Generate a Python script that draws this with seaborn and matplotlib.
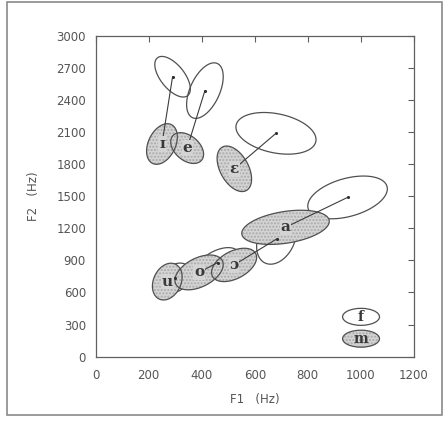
import numpy as np
import pandas as pd
import matplotlib
matplotlib.use("Agg")
import matplotlib.pyplot as plt
import seaborn as sns
from matplotlib.patches import Polygon, Ellipse, Rectangle

# Vowel categories (Italian seven-vowel system)
vowels = ["ɪ", "e", "ɛ", "a", "ɔ", "o", "u"]

# Female speakers: mean F1/F2 (Hz), half-extent of the dispersion ellipse, correlation
f_f1 = [290, 412, 680, 950, 682, 460, 300]
f_f2 = [2620, 2490, 2090, 1490, 1100, 880, 735]
f_ext1 = [67, 69, 151, 150, 75, 80, 60]
f_ext2 = [190, 260, 195, 200, 235, 140, 140]
f_rho = [-0.6, 0.5, -0.3, 0.4, 0.3, 0.5, 0.3]

# Male speakers
m_f1 = [250, 345, 523, 716, 522, 390, 270]
m_f2 = [1990, 1952, 1758, 1210, 858, 788, 702]
m_ext1 = [58, 62, 65, 165, 85, 91, 56]
m_ext2 = [190, 144, 213, 160, 156, 163, 172]
m_rho = [0.35, -0.4, -0.45, 0.35, 0.45, 0.45, 0.25]

x_ticks = [0, 200, 400, 600, 800, 1000, 1200]
y_ticks = [0, 300, 600, 900, 1200, 1500, 1800, 2100, 2400, 2700, 3000]

INK = "#505050"
FILL = "#d4d4d4"


def ellipse_outline(cx, cy, e1, e2, rho, n=200):
    t = np.linspace(0, 2 * np.pi, n)
    x = cx + e1 * np.cos(t)
    y = cy + e2 * (rho * np.cos(t) + np.sqrt(1 - rho ** 2) * np.sin(t))
    return np.column_stack([x, y])


sns.set_theme(style="white")
plt.rcParams["font.family"] = ["DejaVu Sans"]

fig = plt.figure(figsize=(4.45, 4.25), dpi=100)
ax = fig.add_axes([0.215, 0.161, 0.715, 0.754])

# female ellipses (open)
for i in range(len(vowels)):
    xy = ellipse_outline(f_f1[i], f_f2[i], f_ext1[i], f_ext2[i], f_rho[i])
    ax.add_patch(Polygon(xy, closed=True, fill=False, edgecolor=INK, lw=0.9, zorder=1))

# male ellipses (shaded): fills first, then all outlines
for i in range(len(vowels)):
    xy = ellipse_outline(m_f1[i], m_f2[i], m_ext1[i], m_ext2[i], m_rho[i])
    ax.add_patch(Polygon(xy, closed=True, facecolor=FILL, edgecolor="#a9a9a9",
                         hatch=".....", lw=0, zorder=2))
for i in range(len(vowels)):
    xy = ellipse_outline(m_f1[i], m_f2[i], m_ext1[i], m_ext2[i], m_rho[i])
    ax.add_patch(Polygon(xy, closed=True, fill=False, edgecolor=INK, lw=0.9, zorder=3))

# connecting lines from female to male means
links = pd.DataFrame({
    "vowel": vowels * 2,
    "F1": f_f1 + m_f1,
    "F2": f_f2 + m_f2,
    "order": [0] * len(vowels) + [1] * len(vowels),
}).sort_values(["vowel", "order"])
sns.lineplot(data=links, x="F1", y="F2", units="vowel", estimator=None, sort=False,
             color="#3c3c3c", lw=0.8, ax=ax, zorder=4, legend=False)

# female mean points
sns.scatterplot(x=f_f1, y=f_f2, s=5, color="#303030", linewidth=0, ax=ax, zorder=5)

# vowel symbols at the male means
for i, v in enumerate(vowels):
    ax.text(m_f1[i], m_f2[i], v, ha="center", va="center", fontsize=11,
            fontweight="bold", family=["DejaVu Serif"], color="#383838", zorder=6,
            bbox=dict(boxstyle="square,pad=0.05", fc=FILL, ec="none"))

# key: female / male
ax.add_patch(Ellipse((0.834, 0.124), 0.116, 0.053, transform=ax.transAxes,
                     fill=False, edgecolor=INK, lw=0.9, zorder=3))
ax.add_patch(Ellipse((0.834, 0.0558), 0.116, 0.053, transform=ax.transAxes,
                     facecolor=FILL, edgecolor="#a9a9a9", hatch=".....", lw=0, zorder=2))
ax.add_patch(Ellipse((0.834, 0.0558), 0.116, 0.053, transform=ax.transAxes,
                     fill=False, edgecolor=INK, lw=0.9, zorder=3))
ax.text(0.834, 0.124, "f", transform=ax.transAxes, ha="center", va="center",
        fontsize=10, fontweight="bold", family=["DejaVu Serif"], color="#383838", zorder=6)
ax.text(0.834, 0.0558, "m", transform=ax.transAxes, ha="center", va="center",
        fontsize=10, fontweight="bold", family=["DejaVu Serif"], color="#383838", zorder=6)

ax.set_xlim(0, 1200)
ax.set_ylim(0, 3000)
ax.set_xticks(x_ticks)
ax.set_yticks(y_ticks)
ax.set_xticklabels([str(t) for t in x_ticks])
ax.set_yticklabels([str(t) for t in y_ticks])
ax.tick_params(direction="in", length=4, width=0.8, color="#606060",
               top=True, right=True, labelsize=8.5, labelcolor="#555555", pad=7)
ax.tick_params(axis="x", pad=9)
for sp in ax.spines.values():
    sp.set_color("#606060")
    sp.set_linewidth(0.9)
ax.set_xlabel("F1   (Hz)", fontsize=8.5, color="#555555", labelpad=8)
ax.set_ylabel("F2   (Hz)", fontsize=8.5, color="#555555", labelpad=12)

# outer frame
fig.patches.append(Rectangle((0.016, 0.024), 0.978, 0.972, transform=fig.transFigure,
                             fill=False, edgecolor="#8a8a8a", lw=1.2))

fig.savefig("out.png", dpi=100, facecolor="white")
